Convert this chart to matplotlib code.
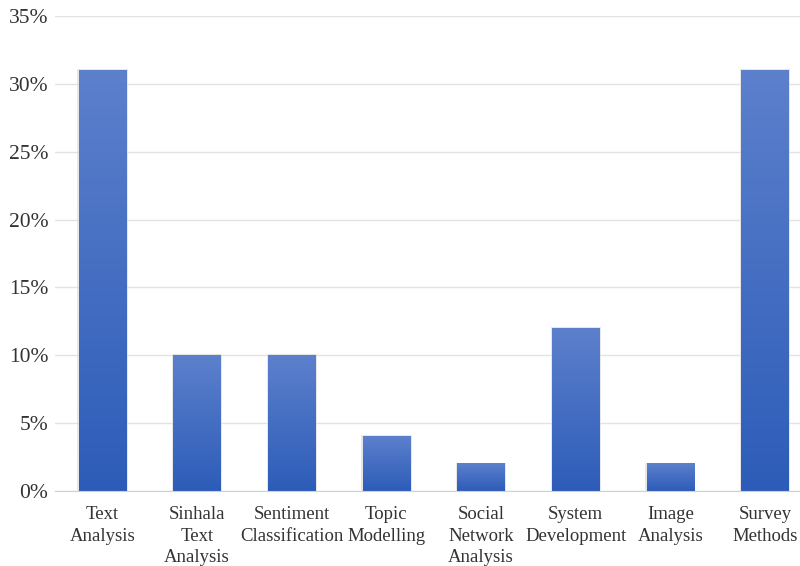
import matplotlib
matplotlib.use('Agg')
import matplotlib.pyplot as plt
import numpy as np
from matplotlib.colors import LinearSegmentedColormap
from matplotlib.ticker import FuncFormatter

categories = ['Text\nAnalysis', 'Sinhala\nText\nAnalysis', 'Sentiment\nClassification',
              'Topic\nModelling', 'Social\nNetwork\nAnalysis', 'System\nDevelopment',
              'Image\nAnalysis', 'Survey\nMethods']
values = [31, 10, 10, 4, 2, 12, 2, 31]
yticks = [0, 5, 10, 15, 20, 25, 30, 35]

plt.rcParams['font.family'] = ['Liberation Serif', 'DejaVu Serif']

fig = plt.figure(figsize=(8, 5.66), dpi=100)
ax = fig.add_axes([0.069, 0.1325, 0.931, 0.8392])

x = np.arange(len(categories))
width = 0.5
cmap = LinearSegmentedColormap.from_list('bar', ['#2d5cb8', '#5c80cc'])
grad = np.linspace(0, 1, 256).reshape(-1, 1)

bars = ax.bar(x, values, width=width, color='none', edgecolor='none', zorder=3)
for b in bars:
    x0, y0 = b.get_x(), b.get_y()
    w, h = b.get_width(), b.get_height()
    # soft shadow
    ax.bar(x0 + w / 2, h + 0.1, width=w + 0.03, bottom=y0, color='#d8d8d8',
           edgecolor='none', zorder=2, alpha=0.6)
    ax.imshow(grad, extent=[x0, x0 + w, y0, y0 + h], origin='lower', cmap=cmap,
              aspect='auto', zorder=3, interpolation='bicubic')

ax.set_xlim(-0.5, 7.37)
ax.set_ylim(0, 35)
ax.set_yticks(yticks)
ax.yaxis.set_major_formatter(FuncFormatter(lambda v, p: '%d%%' % v))
ax.set_xticks(x)
ax.set_xticklabels(categories, fontsize=13.5, color='#333333', linespacing=1.35)
ax.tick_params(axis='y', labelsize=15.5, colors='#333333', length=0, pad=5)
ax.tick_params(axis='x', length=0, pad=11)
ax.grid(axis='y', color='#e3e3e3', linewidth=1, zorder=0)
ax.set_axisbelow(True)
for s in ['top', 'right', 'left']:
    ax.spines[s].set_visible(False)
ax.spines['bottom'].set_color('#d0d0d0')
ax.spines['bottom'].set_zorder(4)

fig.savefig('out.png', dpi=100)
